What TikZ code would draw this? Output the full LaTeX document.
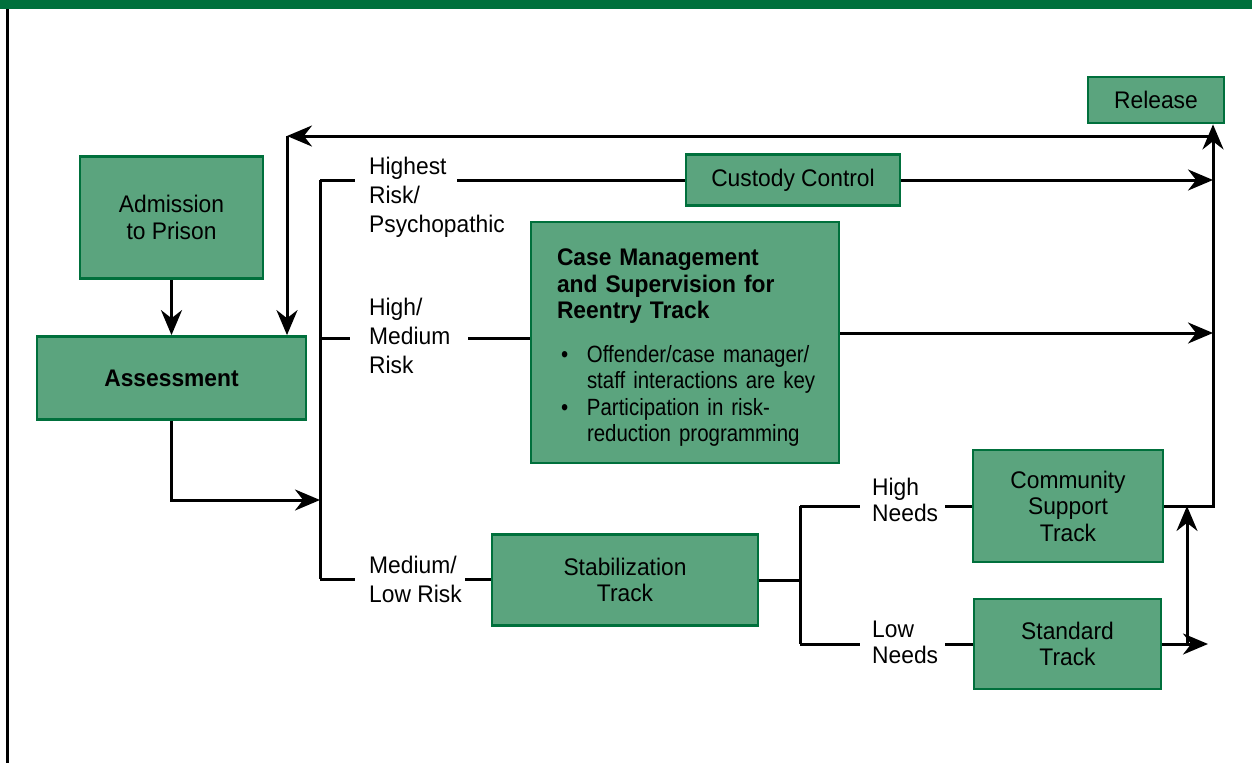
\documentclass[tikz,border=0pt]{standalone}
\usepackage{fontspec}
\setmainfont[FakeStretch=0.95]{Liberation Sans}
\newfontfamily\bulletFont[FakeStretch=0.87]{Liberation Sans}
\usetikzlibrary{arrows.meta}

\definecolor{trackGreen}{RGB}{91,164,126}
\definecolor{barGreen}{RGB}{0,112,60}

\tikzset{
  trackRect/.style={rectangle, draw=barGreen, line width=2.8pt, fill=trackGreen, align=center, inner sep=0pt, font=\fontsize{24}{26.5}\selectfont},
  riskText/.style={anchor=west, align=left, inner sep=0pt, font=\fontsize{24}{29}\selectfont},
  needsText/.style={anchor=west, align=left, inner sep=0pt, font=\fontsize{24}{26}\selectfont},
  flowLine/.style={line width=3pt, draw=black},
  flowArrow/.style={flowLine, -{Stealth[length=25pt,width=21pt]}}
}

\begin{document}
\begin{tikzpicture}[x=1pt, y=-1pt]

\useasboundingbox (0,0) rectangle (1252,763);
\fill[barGreen] (0,0) rectangle (1252,9);
\fill[black] (6,9) rectangle (9,763);

\node (admRect) [trackRect, minimum width=183, minimum height=122] at (171.5,217.5) {Admission\\to Prison};
\node (assRect) [trackRect, minimum width=269, minimum height=83, font=\fontsize{24}{26.5}\selectfont\bfseries] at (171.5,378) {Assessment};
\node (relRect) [trackRect, minimum width=136, minimum height=46] at (1156,100) {Release};
\node (cusRect) [trackRect, minimum width=214, minimum height=51] at (793,180) {Custody Control};
\node (caseRect) [trackRect, minimum width=308, minimum height=241, align=left, text width=256, inner xsep=26pt] at (685,342.5) {\rule{0pt}{27pt}\textbf{Case Management}\\\textbf{and Supervision for}\\\textbf{Reentry Track}\\[17pt]
\mbox{\bulletFont\fontsize{23.5}{26.5}\selectfont\makebox[30pt][l]{\hspace{4pt}\textbullet}Offender/case manager/}\\
\mbox{\bulletFont\fontsize{23.5}{26.5}\selectfont\hspace*{30pt}staff interactions are key}\\
\mbox{\bulletFont\fontsize{23.5}{26.5}\selectfont\makebox[30pt][l]{\hspace{4pt}\textbullet}Participation in risk-}\\
\mbox{\bulletFont\fontsize{23.5}{26.5}\selectfont\hspace*{30pt}reduction programming}};
\node (stabRect) [trackRect, minimum width=266, minimum height=91] at (625,580) {Stabilization\\Track};
\node (commRect) [trackRect, minimum width=190, minimum height=112] at (1068,506) {Community\\Support\\Track};
\node (stdRect) [trackRect, minimum width=187, minimum height=90] at (1067.5,644) {Standard\\Track};

\node (riskHiText) [riskText] at (369,197) {Highest\\Risk/\\Psychopathic};
\node (riskMedText) [riskText] at (369,336) {High/\\Medium\\Risk};
\node (riskLowText) [riskText] at (369,579) {Medium/\\Low Risk};
\node (needHiText) [needsText] at (872,500) {High\\Needs};
\node (needLowText) [needsText] at (872,642) {Low\\Needs};

\coordinate (branchTop) at (320,180);
\coordinate (branchMid) at (320,338);
\coordinate (branchIn) at (320,500);
\coordinate (branchLow) at (320,579);
\coordinate (hiTickEnd) at (355,180);
\coordinate (hiLineStart) at (457,180);
\coordinate (medTickEnd) at (350,338);
\coordinate (medLineStart) at (468,338);
\coordinate (lowTickEnd) at (355,579);
\coordinate (lowLineStart) at (465,579);
\coordinate (needJoin) at (800,580);
\coordinate (needTop) at (800,506);
\coordinate (needLow) at (800,644);
\coordinate (hnTickEnd) at (860,506);
\coordinate (hnLineStart) at (945,506);
\coordinate (lnTickEnd) at (860,644);
\coordinate (lnLineStart) at (945,644);
\coordinate (busLow) at (1213,506);
\coordinate (busTop) at (1213,136);
\coordinate (backCorner) at (287,136);
\coordinate (upFoot) at (1187,644);
\coordinate (stdEnd) at (1208,644);

\draw[flowArrow] (admRect.south) -- (assRect.north);
\draw[flowArrow] (assRect.south) |- (branchIn);
\draw[flowLine] (branchTop) -- (branchLow);
\draw[flowLine] (branchTop) -- (hiTickEnd);
\draw[flowLine] (hiLineStart) -- (cusRect.west);
\draw[flowLine] (branchMid) -- (medTickEnd);
\draw[flowLine] (medLineStart) -- (caseRect.west |- medLineStart);
\draw[flowLine] (branchLow) -- (lowTickEnd);
\draw[flowLine] (lowLineStart) -- (stabRect.west |- lowLineStart);

\draw[flowLine] (stabRect.east |- needJoin) -- (needJoin);
\draw[flowLine] (needTop) -- (needLow);
\draw[flowLine] (needTop) -- (hnTickEnd);
\draw[flowLine] (hnLineStart) -- (commRect.west);
\draw[flowLine] (needLow) -- (lnTickEnd);
\draw[flowLine] (lnLineStart) -- (stdRect.west);

\draw[flowArrow] (cusRect.east) -- (cusRect.east -| busLow);
\draw[flowArrow] ([yshift=9.5pt]caseRect.east) -- ([yshift=9.5pt]caseRect.east -| busLow);
\draw[flowArrow] (commRect.east) -- (busLow) -- (busLow |- relRect.south);
\draw[flowArrow] (stdRect.east) -- (stdEnd);
\draw[flowArrow] (upFoot) -- (upFoot |- commRect.east);
\draw[flowArrow] (busTop) -- (backCorner);
\draw[flowArrow] (backCorner) -- (backCorner |- assRect.north);

\end{tikzpicture}
\end{document}
